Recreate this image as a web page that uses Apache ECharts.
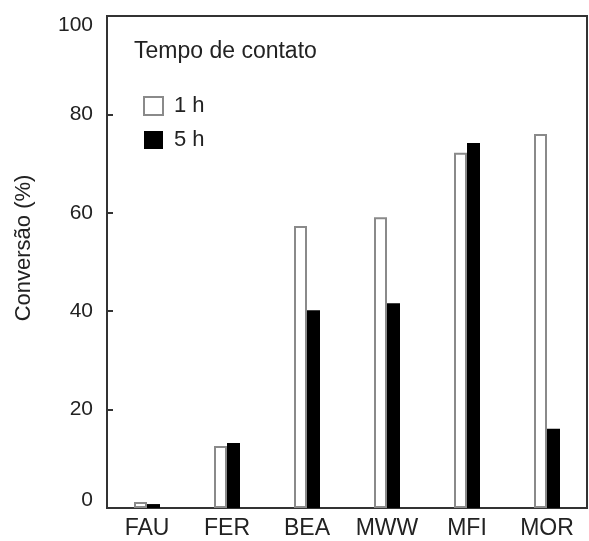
<!DOCTYPE html>
<html>
<head>
<meta charset="utf-8">
<script src="https://cdn.jsdelivr.net/npm/echarts@6/dist/echarts.min.js"></script>
<style>html,body{margin:0;padding:0;background:#fff}#c{width:589px;height:541px}</style>
</head>
<body>
<div id="c"></div>
<script>
const categories = ['FAU', 'FER', 'BEA', 'MWW', 'MFI', 'MOR'];
const oneHour = [1.2, 12.6, 57.3, 59.1, 72.2, 76.0];
const fiveHour = [0.8, 13.2, 40.2, 41.6, 74.2, 16.1];
const yTicks = [0, 20, 40, 60, 80, 100];
const seriesNames = ['1 h', '5 h'];
const legendTitle = 'Tempo de contato';
const yName = 'Conversão (%)';

const font = 'Liberation Sans, Arial, Helvetica, sans-serif';
const chart = echarts.init(document.getElementById('c'), null, {renderer: 'canvas'});
chart.setOption({
  animation: false,
  backgroundColor: '#fff',
  textStyle: {fontFamily: font},
  title: {
    text: legendTitle,
    left: 134, top: 40, padding: 0,
    textStyle: {fontSize: 23, fontWeight: 'normal', color: '#222', fontFamily: font}
  },
  legend: {
    data: seriesNames,
    orient: 'vertical',
    left: 143, top: 95, padding: 0,
    itemWidth: 19, itemHeight: 18, itemGap: 12,
    icon: 'rect',
    textStyle: {fontSize: 22, color: '#222', fontFamily: font, padding: [0, 0, 0, 6]}
  },
  grid: {
    left: 107, right: 2, top: 16, bottom: 33,
    show: true, borderColor: '#333', borderWidth: 2, backgroundColor: 'transparent'
  },
  xAxis: {
    type: 'category',
    data: categories,
    axisLine: {lineStyle: {color: '#333', width: 2}},
    axisTick: {show: false},
    axisLabel: {fontSize: 23, color: '#222', margin: 9, fontFamily: font, interval: 0, hideOverlap: false}
  },
  yAxis: {
    type: 'value',
    min: 0, max: 100, interval: 20,
    name: yName,
    nameLocation: 'middle',
    nameGap: 72,
    nameTextStyle: {fontSize: 22, color: '#222', fontFamily: font, padding: [0, 0, 0, 28]},
    splitLine: {show: false},
    axisLine: {show: true, lineStyle: {color: '#333', width: 2}},
    axisTick: {show: true, inside: true, length: 6, lineStyle: {color: '#333', width: 2}},
    axisLabel: {
      fontSize: 21, color: '#222', margin: 14, fontFamily: font,
      formatter: function (v) {
        if (v === yTicks[yTicks.length - 1]) return '{mx|' + v + '}';
        if (v === yTicks[0]) return '{mn|' + v + '}';
        return String(v);
      },
      rich: {
        mx: {fontSize: 21, color: '#222', fontFamily: font, padding: [18, 0, 0, 0]},
        mn: {fontSize: 21, color: '#222', fontFamily: font, padding: [0, 0, 16, 0]}
      }
    }
  },
  series: [
    {
      name: seriesNames[0], type: 'bar', data: oneHour,
      barWidth: 13, barGap: '0%',
      itemStyle: {color: '#fff', borderColor: '#8a8a8a', borderWidth: 2}
    },
    {
      name: seriesNames[1], type: 'bar', data: fiveHour,
      barWidth: 13, barGap: '0%',
      itemStyle: {color: '#000'}
    }
  ]
});
</script>
</body>
</html>
